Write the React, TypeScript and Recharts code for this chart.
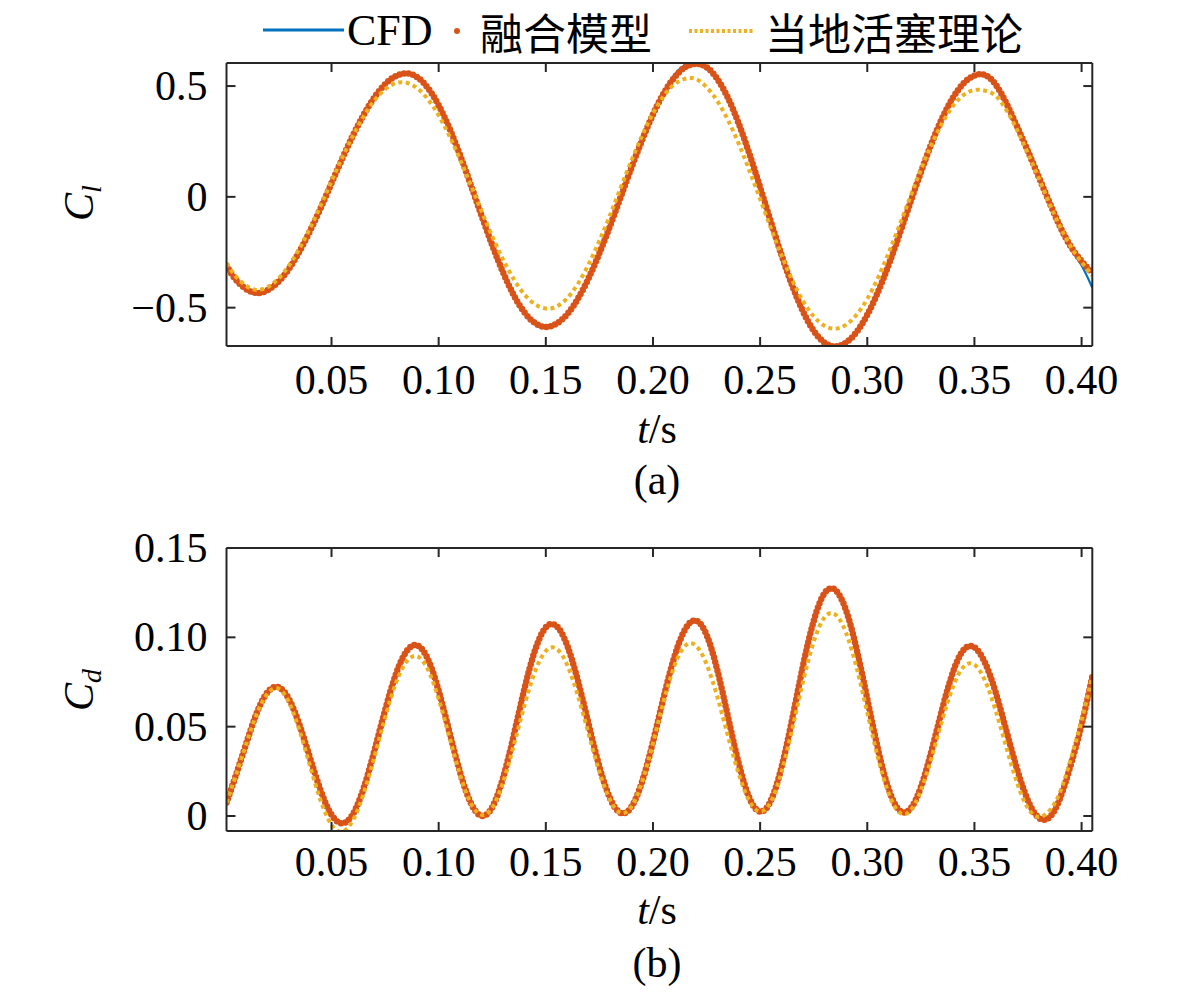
import React from 'react';
import { LineChart, Line, XAxis, YAxis } from 'recharts';

// sample times (s)
const times = [
  0.001, 0.005, 0.01, 0.015, 0.02, 0.025, 0.03, 0.035, 0.04, 0.045,
  0.05, 0.055, 0.06, 0.065, 0.07, 0.075, 0.08, 0.085, 0.09, 0.095,
  0.1, 0.105, 0.11, 0.115, 0.12, 0.125, 0.13, 0.135, 0.14, 0.145,
  0.15, 0.155, 0.16, 0.165, 0.17, 0.175, 0.18, 0.185, 0.19, 0.195,
  0.2, 0.205, 0.21, 0.215, 0.22, 0.225, 0.23, 0.235, 0.24, 0.245,
  0.25, 0.255, 0.26, 0.265, 0.27, 0.275, 0.28, 0.285, 0.29, 0.295,
  0.3, 0.305, 0.31, 0.315, 0.32, 0.325, 0.33, 0.335, 0.34, 0.345,
  0.35, 0.355, 0.36, 0.365, 0.37, 0.375, 0.38, 0.385, 0.39, 0.395,
  0.4, 0.405,
];

// (a) lift coefficient
const clCfd = [
  -0.31, -0.372, -0.42, -0.44, -0.428, -0.388, -0.327, -0.247, -0.153, -0.049,
  0.062, 0.172, 0.277, 0.37, 0.449, 0.508, 0.545, 0.557, 0.54, 0.491,
  0.413, 0.31, 0.188, 0.054, -0.084, -0.218, -0.34, -0.443, -0.521, -0.57,
  -0.587, -0.572, -0.529, -0.459, -0.366, -0.254, -0.13, 0.001, 0.135, 0.262,
  0.378, 0.475, 0.55, 0.595, 0.604, 0.59, 0.54, 0.455, 0.34, 0.2,
  0.045, -0.112, -0.263, -0.401, -0.517, -0.604, -0.658, -0.675, -0.658, -0.61,
  -0.532, -0.429, -0.306, -0.17, -0.028, 0.111, 0.242, 0.356, 0.448, 0.513,
  0.547, 0.55, 0.505, 0.42, 0.315, 0.205, 0.09, -0.025, -0.135, -0.235,
  -0.31, -0.41,
];
const clModel = [
  -0.31, -0.37, -0.415, -0.434, -0.422, -0.385, -0.326, -0.247, -0.153, -0.049,
  0.062, 0.172, 0.277, 0.37, 0.449, 0.508, 0.545, 0.557, 0.54, 0.491,
  0.413, 0.31, 0.188, 0.054, -0.084, -0.218, -0.34, -0.443, -0.521, -0.57,
  -0.587, -0.572, -0.529, -0.459, -0.366, -0.254, -0.13, 0.001, 0.133, 0.258,
  0.372, 0.467, 0.539, 0.585, 0.6, 0.585, 0.532, 0.446, 0.331, 0.194,
  0.043, -0.112, -0.263, -0.401, -0.517, -0.604, -0.658, -0.675, -0.658, -0.61,
  -0.532, -0.429, -0.306, -0.17, -0.028, 0.111, 0.242, 0.356, 0.448, 0.513,
  0.547, 0.55, 0.505, 0.42, 0.315, 0.205, 0.09, -0.025, -0.135, -0.225,
  -0.29, -0.345,
];
const clPiston = [
  -0.3, -0.355, -0.4, -0.42, -0.408, -0.371, -0.312, -0.234, -0.141, -0.038,
  0.07, 0.177, 0.276, 0.364, 0.435, 0.485, 0.513, 0.515, 0.49, 0.44,
  0.367, 0.275, 0.168, 0.053, -0.064, -0.178, -0.282, -0.371, -0.44, -0.485,
  -0.504, -0.495, -0.457, -0.392, -0.304, -0.198, -0.081, 0.043, 0.165, 0.278,
  0.377, 0.455, 0.508, 0.533, 0.532, 0.495, 0.433, 0.346, 0.24, 0.118,
  -0.01, -0.141, -0.264, -0.376, -0.47, -0.539, -0.582, -0.595, -0.578, -0.532,
  -0.46, -0.365, -0.252, -0.129, -0.002, 0.122, 0.237, 0.334, 0.41, 0.46,
  0.482, 0.479, 0.455, 0.39, 0.3, 0.195, 0.085, -0.03, -0.135, -0.225,
  -0.295, -0.355,
];

// (b) drag coefficient
const cdCfd = [
  0.0075, 0.0214, 0.0398, 0.0573, 0.0691, 0.0722, 0.0657, 0.0512, 0.0324, 0.014,
  0.0007, -0.0041, 0.0011, 0.0158, 0.0368, 0.0594, 0.0793, 0.0922, 0.0955, 0.0877,
  0.0701, 0.0471, 0.0244, 0.0073, 0.0001, 0.0051, 0.0222, 0.0468, 0.0735, 0.0942,
  0.1058, 0.1063, 0.0954, 0.0756, 0.0513, 0.0276, 0.0098, 0.0017, 0.0054, 0.0205,
  0.0435, 0.069, 0.0905, 0.105, 0.1094, 0.1008, 0.08, 0.054, 0.0288, 0.0099,
  0.0024, 0.0088, 0.0288, 0.0568, 0.0865, 0.1105, 0.125, 0.1266, 0.1154, 0.0935,
  0.0656, 0.0374, 0.015, 0.0031, 0.0041, 0.0172, 0.0385, 0.062, 0.0818, 0.0935,
  0.0944, 0.0852, 0.068, 0.0466, 0.0255, 0.0085, -0.001, -0.0004, 0.0115, 0.0305,
  0.0525, 0.078,
];
const cdModel = [
  0.0075, 0.0214, 0.0398, 0.0573, 0.0691, 0.0722, 0.0657, 0.0512, 0.0324, 0.014,
  0.0007, -0.0041, 0.0011, 0.0156, 0.0365, 0.0592, 0.0792, 0.0922, 0.0955, 0.0877,
  0.0701, 0.0471, 0.0244, 0.0073, 0.0001, 0.0049, 0.0212, 0.045, 0.0711, 0.0929,
  0.1056, 0.1063, 0.0954, 0.0756, 0.0513, 0.0276, 0.0098, 0.0017, 0.0052, 0.0195,
  0.0415, 0.0665, 0.0891, 0.1045, 0.1094, 0.1014, 0.0818, 0.0556, 0.0295, 0.0101,
  0.0024, 0.0086, 0.0274, 0.0545, 0.0841, 0.1092, 0.1246, 0.1266, 0.1154, 0.0935,
  0.0656, 0.0374, 0.015, 0.0031, 0.0039, 0.0161, 0.0366, 0.06, 0.0806, 0.0931,
  0.0944, 0.0856, 0.0688, 0.0473, 0.0259, 0.0085, -0.001, -0.0007, 0.0101, 0.0288,
  0.0511, 0.078,
];
const cdPiston = [
  0.0075, 0.0213, 0.0396, 0.0568, 0.0683, 0.0714, 0.064, 0.0481, 0.0279, 0.0084,
  -0.0049, -0.0087, -0.0024, 0.0126, 0.033, 0.0551, 0.0742, 0.0864, 0.0894, 0.0819,
  0.0655, 0.0442, 0.023, 0.0072, 0.0006, 0.0047, 0.0187, 0.0393, 0.0618, 0.081,
  0.0924, 0.0936, 0.0845, 0.0672, 0.0458, 0.0247, 0.0089, 0.0017, 0.0053, 0.0194,
  0.0408, 0.0643, 0.084, 0.0952, 0.0954, 0.085, 0.0668, 0.0447, 0.0236, 0.0084,
  0.0025, 0.008, 0.0247, 0.0488, 0.0751, 0.0975, 0.1111, 0.1129, 0.1028, 0.0831,
  0.0579, 0.0326, 0.0126, 0.002, 0.0029, 0.0142, 0.0327, 0.0538, 0.0723, 0.0836,
  0.0847, 0.0756, 0.0587, 0.0379, 0.0182, 0.0043, -0.0005, 0.003, 0.0135, 0.032,
  0.0535, 0.078,
];

const xTicks = [0.05, 0.1, 0.15, 0.2, 0.25, 0.3, 0.35, 0.4];
const clTicks = [-0.5, 0, 0.5];
const cdTicks = [0, 0.05, 0.1, 0.15];

const xDomain: [number, number] = [0.001, 0.405];
const clDomain: [number, number] = [-0.673, 0.604];
const cdDomain: [number, number] = [-0.0084, 0.15];

const SERIF = '"Liberation Serif", "Times New Roman", serif';
const CJK = '"Noto Sans CJK SC", sans-serif';
const FRAME = '#262626';
const BLUE = '#0072BD';
const ORANGE = '#D95319';
const YELLOW = '#EDB120';

const W = 1181;
const H = 995;
const CHART_H = 500;
const TICK_LEN = 9;
const FONT = 42;

const clRows = times.map((t, i) => ({ t, cfd: clCfd[i], model: clModel[i], piston: clPiston[i] }));
const cdRows = times.map((t, i) => ({ t, cfd: cdCfd[i], model: cdModel[i], piston: cdPiston[i] }));

const fmtX = (v: number) => v.toFixed(2);
const fmtCl = (v: number) => (v === 0 ? '0' : v < 0 ? '\u2212' + Math.abs(v) : String(v));
const fmtCd = (v: number) => (v === 0 ? '0' : v.toFixed(2));

function Panel({ rows, yDomain, yTicks, yFmt, top, labelGap }: any) {
  const axisLine = { stroke: FRAME, strokeWidth: 2 };
  return (
    <div style={{ position: 'absolute', left: 0, top, width: W, height: CHART_H }}>
      <LineChart
        width={W}
        height={CHART_H}
        data={rows}
        margin={{ top: 62, right: 87.7, bottom: 54, left: 126.5 }}
      >
        <XAxis
          xAxisId="bottom"
          dataKey="t"
          type="number"
          domain={xDomain}
          allowDataOverflow
          ticks={xTicks}
          interval={0}
          height={100}
          tickSize={0}
          tickMargin={0}
          tickLine={false}
          axisLine={axisLine}
          tick={(p: any) => (
            <g>
              <line x1={p.x} x2={p.x} y1={p.y} y2={p.y - TICK_LEN} stroke={FRAME} strokeWidth={2} />
              <text x={p.x} y={p.y + labelGap} textAnchor="middle" fontFamily={SERIF} fontSize={FONT} fill="#000">
                {fmtX(p.payload.value)}
              </text>
            </g>
          )}
        />
        <XAxis
          xAxisId="top"
          orientation="top"
          dataKey="t"
          type="number"
          domain={xDomain}
          allowDataOverflow
          ticks={xTicks}
          interval={0}
          height={1}
          tickSize={0}
          tickMargin={0}
          tickLine={false}
          axisLine={axisLine}
          tick={(p: any) => (
            <line x1={p.x} x2={p.x} y1={p.y} y2={p.y + TICK_LEN} stroke={FRAME} strokeWidth={2} />
          )}
        />
        <YAxis
          yAxisId="left"
          type="number"
          domain={yDomain}
          allowDataOverflow
          ticks={yTicks}
          interval={0}
          width={100}
          tickSize={0}
          tickMargin={0}
          tickLine={false}
          axisLine={axisLine}
          tick={(p: any) => (
            <g>
              <line x1={p.x} x2={p.x + TICK_LEN} y1={p.y} y2={p.y} stroke={FRAME} strokeWidth={2} />
              <text x={p.x - 19} y={p.y + 14} textAnchor="end" fontFamily={SERIF} fontSize={FONT} fill="#000">
                {yFmt(p.payload.value)}
              </text>
            </g>
          )}
        />
        <YAxis
          yAxisId="right"
          orientation="right"
          type="number"
          domain={yDomain}
          allowDataOverflow
          ticks={yTicks}
          interval={0}
          width={1}
          tickSize={0}
          tickMargin={0}
          tickLine={false}
          axisLine={axisLine}
          tick={(p: any) => (
            <line x1={p.x} x2={p.x - TICK_LEN} y1={p.y} y2={p.y} stroke={FRAME} strokeWidth={2} />
          )}
        />
        <Line
          xAxisId="bottom"
          yAxisId="left"
          dataKey="cfd"
          type="natural"
          stroke={BLUE}
          strokeWidth={2.2}
          dot={false}
          isAnimationActive={false}
        />
        <Line
          xAxisId="bottom"
          yAxisId="left"
          dataKey="model"
          type="natural"
          stroke={ORANGE}
          strokeWidth={6.5}
          strokeDasharray="0 4.5"
          strokeLinecap="round"
          dot={false}
          isAnimationActive={false}
        />
        <Line
          xAxisId="bottom"
          yAxisId="left"
          dataKey="piston"
          type="natural"
          stroke={YELLOW}
          strokeWidth={4}
          strokeDasharray="4 3.5"
          dot={false}
          isAnimationActive={false}
        />
      </LineChart>
    </div>
  );
}

function Labels() {
  return (
    <svg
      width={W}
      height={H}
      style={{ position: 'absolute', left: 0, top: 0, pointerEvents: 'none' }}
    >
      {/* legend */}
      <line x1={263} x2={344} y1={30} y2={30} stroke={BLUE} strokeWidth={3} />
      <text x={347} y={45} fontFamily={SERIF} fontSize={44} fill="#000">CFD</text>
      <circle cx={457} cy={31} r={3} fill={ORANGE} />
      <text x={480} y={50} fontFamily={CJK} fontSize={43} fill="#000">融合模型</text>
      <line x1={689} x2={755} y1={31} y2={31} stroke={YELLOW} strokeWidth={4} strokeDasharray="3 2.5" />
      <text x={765} y={50} fontFamily={CJK} fontSize={43} fill="#000">当地活塞理论</text>

      {/* panel (a) */}
      <text x={93} y={203} transform="rotate(-90 93 203)" textAnchor="middle" fontFamily={SERIF} fontSize={FONT}>
        <tspan fontStyle="italic">C</tspan>
        <tspan fontStyle="italic" fontSize={28} dy={8}>l</tspan>
      </text>
      <text x={657} y={443} textAnchor="middle" fontFamily={SERIF} fontSize={FONT}>
        <tspan fontStyle="italic">t</tspan>/s
      </text>
      <text x={657} y={494} textAnchor="middle" fontFamily={SERIF} fontSize={FONT}>(a)</text>

      {/* panel (b) */}
      <text x={93} y={690} transform="rotate(-90 93 690)" textAnchor="middle" fontFamily={SERIF} fontSize={FONT}>
        <tspan fontStyle="italic">C</tspan>
        <tspan fontStyle="italic" fontSize={28} dy={8}>d</tspan>
      </text>
      <text x={657} y={924} textAnchor="middle" fontFamily={SERIF} fontSize={FONT}>
        <tspan fontStyle="italic">t</tspan>/s
      </text>
      <text x={657} y={977} textAnchor="middle" fontFamily={SERIF} fontSize={FONT}>(b)</text>
    </svg>
  );
}

export default function App() {
  return (
    <div style={{ position: 'absolute', left: 0, top: 0, width: W, height: H, background: '#fff' }}>
      <Panel rows={clRows} yDomain={clDomain} yTicks={clTicks} yFmt={fmtCl} top={0} labelGap={48} />
      <Panel rows={cdRows} yDomain={cdDomain} yTicks={cdTicks} yFmt={fmtCd} top={485.3} labelGap={45} />
      <Labels />
    </div>
  );
}
